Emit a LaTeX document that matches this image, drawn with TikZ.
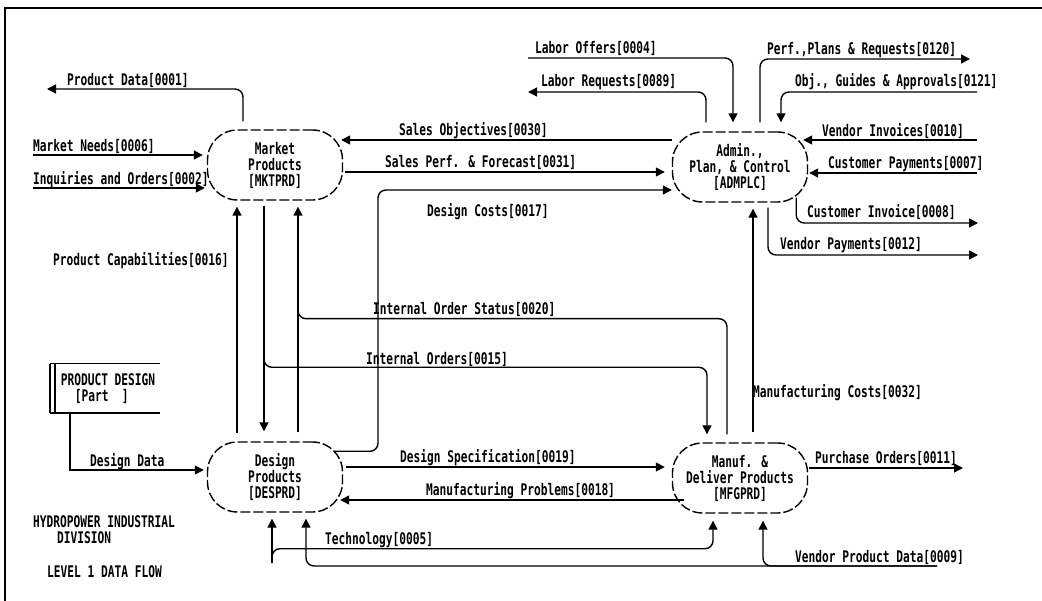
\documentclass[tikz,border=0pt]{standalone}
\usepackage{fontspec}
\newfontfamily\dfdfont[FakeStretch=0.7]{DejaVu Sans Mono}
\usepackage{tikz}
\usetikzlibrary{arrows.meta,calc,positioning}

\begin{document}
\begin{tikzpicture}[
  x=1pt,y=-1pt,
  font=\dfdfont\bfseries\fontsize{16}{16}\selectfont,
  proc/.style={draw,dash pattern=on 10pt off 3pt,line width=1.4pt,rounded corners=30pt,minimum width=135pt,minimum height=70pt,align=center,inner sep=0pt},
  flow/.style={-{Triangle[length=9pt,width=9pt]},line width=1.4pt},
  wire/.style={line width=1.4pt},
  lbl/.style={anchor=base west,inner sep=0pt},
]
\useasboundingbox (0,0) rectangle (1042,601);
\draw[line width=2pt] (5,601) -- (5,8) -- (1042,8);

\node[proc] (mkt) at (275,165) {Market\\Products\\{[MKTPRD]}};
\node[proc] (adm) at (740,167) {Admin.,\\Plan, \& Control\\{[ADMPLC]}};
\node[proc] (des) at (275,477) {Design\\Products\\{[DESPRD]}};
\node[proc] (mfg) at (740,478) {Manuf. \&\\Deliver Products\\{[MFGPRD]}};
\node[minimum width=110pt,minimum height=49pt,inner sep=0pt,align=left] (store) at (105,388.5) {\hspace*{6pt}PRODUCT DESIGN\\\hspace*{20pt}[Part\ \ ]};
\draw[wire] (store.north west) -- (store.north east) (store.south west) -- (store.south east)
  (store.north west) -- (store.south west) ([xshift=5pt]store.north west) -- ([xshift=5pt]store.south west);

\coordinate (pdOut) at (47,89);
\coordinate (mnIn) at (33,155);
\coordinate (ioIn) at (33,188);
\coordinate (loIn) at (528,58);
\coordinate (lrOut) at (528,92);
\coordinate (ppOut) at (970,59);
\coordinate (ogIn) at (977,92);
\coordinate (viIn) at (977,140);
\coordinate (cpIn) at (977,173);
\coordinate (ciOut) at (978,223);
\coordinate (vpOut) at (978,255);
\coordinate (poOut) at (963,468);
\coordinate (teIn) at (272,563);
\coordinate (vdIn) at (937,566);
\coordinate (dcTurn) at (378,190);
\coordinate (ioSplit) at (264,345);
\coordinate (iosJoin) at (298,300);

\draw[flow,rounded corners=8pt] ($(mkt.north)+(-32,-8)$) |- (pdOut);
\draw[flow] (mnIn) -- ($(mkt.west|-mnIn)+(-4,0)$);
\draw[flow] (ioIn) -- ($(mkt.west|-ioIn)+(-2,0)$);
\draw[flow] ($(adm.west)+(0,-27)$) -- ($(mkt.east)+(-2,-25)$);
\draw[flow] ($(mkt.east)+(2,7)$) -- ($(adm.west)+(-7,5)$);
\draw[flow,rounded corners=8pt] ($(des.north east)+(-8,10)$) -| (dcTurn) -- ($(adm.west)+(0,23)$);
\draw[flow] ($(des.north)+(-38,-8)$) -- ($(mkt.south)+(-38,6)$);
\draw[flow] ($(mkt.south)+(-11,5)$) -- ($(des.north)+(-11,-10)$);
\draw[flow,rounded corners=8pt] (ioSplit) |- ($(mfg.north)+(-33,-75)$) -- ($(mfg.north)+(-33,-8)$);
\draw[wire,rounded corners=8pt] ($(mfg.north)+(-13,-8)$) |- ($(mkt.south)+(23,118)$) -- (iosJoin);
\draw[flow] ($(des.north)+(23,-9)$) -- ($(mkt.south)+(23,6)$);
\draw[flow] ($(mfg.north)+(13,-10)$) -- ($(adm.south)+(13,6)$);
\draw[flow,rounded corners=8pt] (loIn) -| ($(adm.north)+(-7,-9)$);
\draw[flow,rounded corners=8pt] ($(adm.north)+(-34,-9)$) |- (lrOut);
\draw[flow,rounded corners=8pt] ($(adm.north)+(20,-9)$) |- (ppOut);
\draw[flow,rounded corners=8pt] (ogIn) -| ($(adm.north)+(41,-9)$);
\draw[flow] (viIn) -- ($(adm.east)+(-5,-27)$);
\draw[flow] (cpIn) -- ($(adm.east)+(1,6)$);
\draw[flow,rounded corners=8pt] ($(adm.south east)+(-12,-5)$) |- (ciOut);
\draw[flow,rounded corners=8pt] ($(adm.south)+(28,5)$) |- (vpOut);
\draw[flow] ($(des.east)+(3,-10)$) -- ($(mfg.west)+(-7,-11)$);
\draw[flow] ($(mfg.west)+(12,22)$) -- ($(des.east)+(-3,23)$);
\draw[flow] ($(mfg.east)+(1,-10)$) -- (poOut);
\draw[flow] (teIn) -- ($(des.south)+(-3,6)$);
\draw[flow,rounded corners=8pt] (teIn) |- ($(mfg.south)+(-27,35)$) -- ($(mfg.south)+(-27,7)$);
\draw[flow,rounded corners=8pt] (vdIn) -| ($(mfg.south)+(23,7)$);
\draw[flow,rounded corners=8pt] (vdIn) -| ($(des.south)+(31,6)$);
\draw[flow] ($(store.south west)+(20,0)$) |- ($(des.west)+(-3,-7)$);

\node[lbl] (tPD) at (67,86) {Product Data[0001]};
\node[lbl] (tMN) at (33,152) {Market Needs[0006]};
\node[lbl] (tIO) at (33,185) {Inquiries and Orders[0002]};
\node[lbl] (tPC) at (53,266) {Product Capabilities[0016]};
\node[lbl] (tSO) at (399,136) {Sales Objectives[0030]};
\node[lbl] (tSP) at (385,168) {Sales Perf. \& Forecast[0031]};
\node[lbl] (tDC) at (427,217) {Design Costs[0017]};
\node[lbl] (tLO) at (535,54) {Labor Offers[0004]};
\node[lbl] (tLR) at (541,87) {Labor Requests[0089]};
\node[lbl] (tPP) at (767,55) {Perf.,Plans \& Requests[0120]};
\node[lbl] (tOG) at (795,87) {Obj., Guides \& Approvals[0121]};
\node[lbl] (tVI) at (822,137) {Vendor Invoices[0010]};
\node[lbl] (tCP) at (828,169) {Customer Payments[0007]};
\node[lbl] (tCI) at (807,218) {Customer Invoice[0008]};
\node[lbl] (tVP) at (780,250) {Vendor Payments[0012]};
\node[lbl] (tIS) at (373,315) {Internal Order Status[0020]};
\node[lbl] (tIN) at (366,365) {Internal Orders[0015]};
\node[lbl] (tMC) at (753,398) {Manufacturing Costs[0032]};
\node[lbl] (tDD) at (90,467) {Design Data};
\node[lbl] (tDS) at (400,463) {Design Specification[0019]};
\node[lbl] (tMP) at (426,496) {Manufacturing Problems[0018]};
\node[lbl] (tPO) at (815,464) {Purchase Orders[0011]};
\node[lbl] (tTE) at (325,544) {Technology[0005]};
\node[lbl] (tVD) at (795,562) {Vendor Product Data[0009]};
\node[lbl] (tH1) at (33,527) {HYDROPOWER INDUSTRIAL};
\node[lbl] (tH2) at (57,543) {DIVISION};
\node[lbl] (tH3) at (47,577) {LEVEL 1 DATA FLOW};
\end{tikzpicture}
\end{document}
